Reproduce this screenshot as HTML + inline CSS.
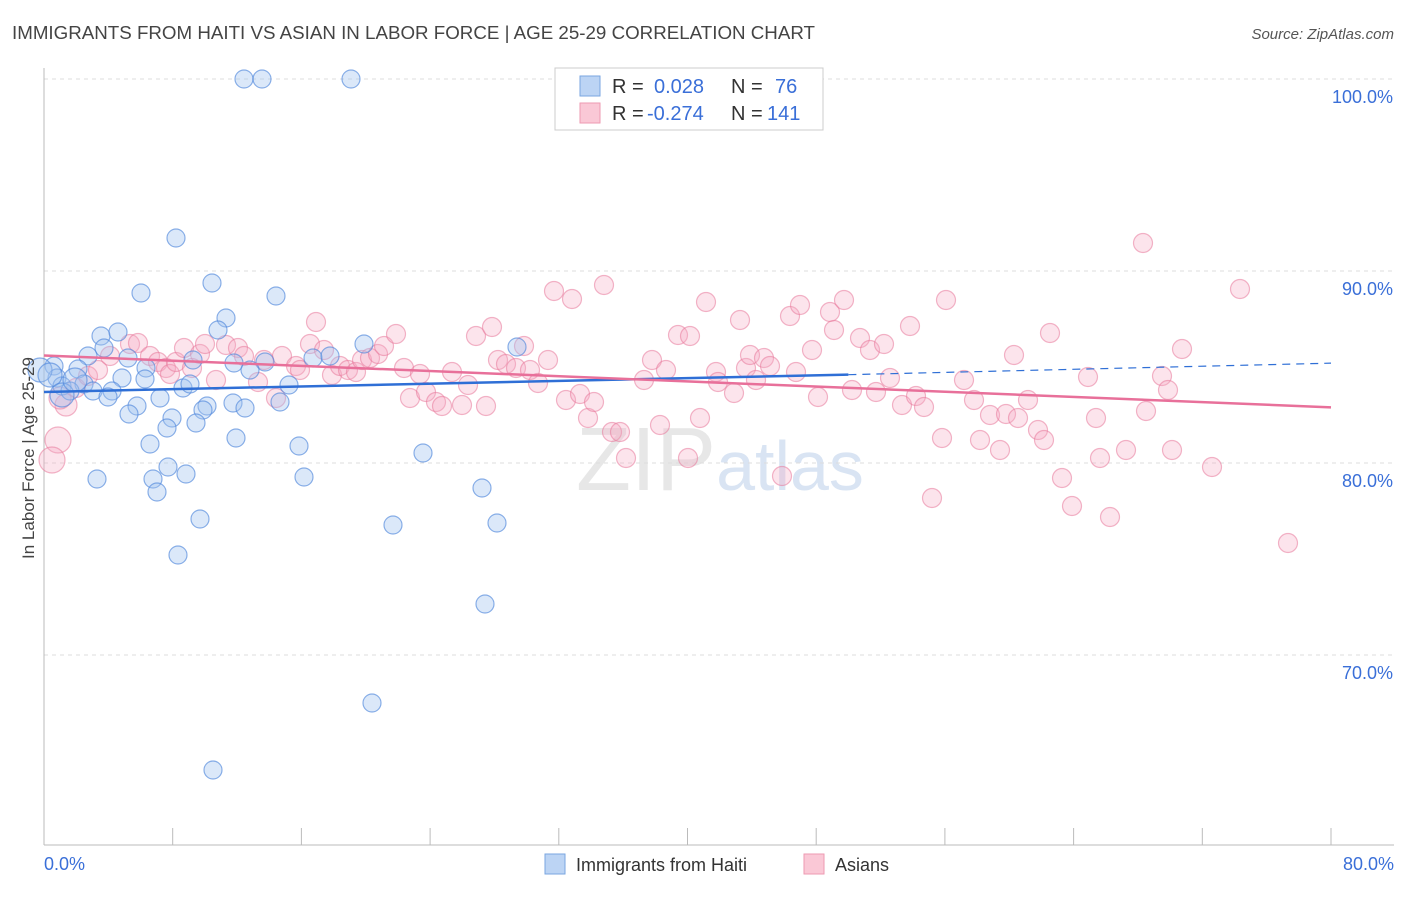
<!DOCTYPE html>
<html><head><meta charset="utf-8"><style>
body{margin:0;background:#fff;font-family:"Liberation Sans",sans-serif;}
svg text{font-family:"Liberation Sans",sans-serif;}
</style></head><body>
<svg id="chart" width="1406" height="892" xmlns="http://www.w3.org/2000/svg">
<text x="12" y="39" font-size="18" fill="#444" textLength="803" lengthAdjust="spacingAndGlyphs">IMMIGRANTS FROM HAITI VS ASIAN IN LABOR FORCE | AGE 25-29 CORRELATION CHART</text>
<text x="1394" y="39" font-size="15" fill="#555" text-anchor="end" font-style="italic">Source: ZipAtlas.com</text>
<text x="720" y="490" font-size="90" fill="#ddd" text-anchor="middle" font-family="Liberation Serif" opacity="0.7">ZIP<tspan fill="#c9d9ee" font-family="Liberation Sans" font-size="70">atlas</tspan></text>
<g id="grid"></g><g id="axes"></g><g id="pts"></g><g id="trend"></g>
<text transform="translate(34,458) rotate(-90)" font-size="17" fill="#444" text-anchor="middle">In Labor Force | Age 25-29</text>
<g>
<rect x="555" y="68" width="268" height="62" fill="#fff" stroke="#ccc"/>
<rect x="580" y="76" width="20" height="20" fill="#bcd4f4" stroke="#7aa6e0"/>
<rect x="580" y="103" width="20" height="20" fill="#fac8d6" stroke="#ee9ab2"/>
<text x="612" y="93" font-size="20" fill="#333">R =</text>
<text x="654" y="93" font-size="20" fill="#3a6fd8">0.028</text>
<text x="731" y="93" font-size="20" fill="#333">N =</text>
<text x="775" y="93" font-size="20" fill="#3a6fd8">76</text>
<text x="612" y="120" font-size="20" fill="#333">R =</text>
<text x="647" y="120" font-size="20" fill="#3a6fd8">-0.274</text>
<text x="731" y="120" font-size="20" fill="#333">N =</text>
<text x="767" y="120" font-size="20" fill="#3a6fd8">141</text>
</g>
<g>
<rect x="545" y="854" width="20" height="20" fill="#bcd4f4" stroke="#7aa6e0"/>
<text x="576" y="871" font-size="18" fill="#333">Immigrants from Haiti</text>
<rect x="804" y="854" width="20" height="20" fill="#fac8d6" stroke="#ee9ab2"/>
<text x="835" y="871" font-size="18" fill="#333">Asians</text>
</g>
</svg>
<script>
const yTicks=[100,90,80,70];
const xTickCount=10;
const blueX=[244,262,351,757,176,212,141,276,226,218,101,118,104,88,128,193,234,265,250,313,330,364,517,54,78,146,122,145,57,84,62,70,93,112,183,190,289,160,108,137,207,233,245,280,203,129,172,167,196,236,150,299,423,97,153,168,186,157,304,482,200,393,497,178,485,372,213,40,50,62,75].map(p=>(p-44)/1287*80);
const blueY=[79,79,79,79,238,283,293,296,318,330,336,332,348,356,358,360,363,362,370,358,356,344,347,366,369,368,378,379,378,384,386,391,391,391,388,384,385,398,397,406,406,403,408,402,410,414,418,428,423,438,444,446,453,479,479,467,474,492,477,488,519,525,523,555,604,703,770,370,375,395,380].map(p=>100-(p-79)/19.2);
const pinkX=[58,52,66,60,76,88,98,110,130,138,150,158,166,170,176,184,192,200,205,216,226,238,244,258,264,276,282,296,300,310,316,324,332,340,348,356,362,370,378,384,396,404,410,420,426,436,442,452,462,468,476,486,492,498,506,516,524,530,538,548,554,566,572,580,588,594,604,612,620,626,644,652,660,666,678,688,690,700,706,716,718,734,740,746,750,756,764,770,782,790,796,800,812,818,830,834,844,852,860,870,876,884,890,902,910,916,924,932,942,946,964,974,980,990,1000,1006,1014,1018,1028,1038,1044,1050,1062,1072,1088,1096,1100,1110,1126,1143,1146,1162,1168,1172,1182,1212,1240,1288].map(p=>(p-44)/1287*80);
const pinkY=[440,460,405,398,388,376,370,356,344,343,356,362,368,374,362,348,368,354,344,380,345,348,356,382,360,398,356,366,370,344,322,350,375,366,370,372,360,358,354,346,334,368,398,374,392,402,406,372,405,385,336,406,327,360,364,368,346,370,383,360,291,400,299,394,418,402,285,432,432,458,380,360,425,370,335,458,336,418,302,372,382,393,320,368,355,380,358,366,476,316,372,305,350,397,312,330,300,390,338,350,392,344,378,405,326,396,407,498,438,300,380,400,440,415,450,414,355,418,400,430,440,333,478,506,377,418,458,517,450,243,411,376,390,450,349,467,289,543].map(p=>100-(p-79)/19.2);
const blueTrend=[[0,83.7],[50,84.6],[80,85.2]];
const pinkTrend=[[0,85.6],[80,82.9]];
const NS="http://www.w3.org/2000/svg";
const X=v=>44+v/80*1287, Y=v=>79+(100-v)*19.2;
function mk(t,a,p){const e=document.createElementNS(NS,t);for(const k in a)e.setAttribute(k,a[k]);p.appendChild(e);return e;}
const grid=document.getElementById('grid'),axes=document.getElementById('axes'),pts=document.getElementById('pts'),tr=document.getElementById('trend');
yTicks.forEach(v=>{
 const l=mk('line',{x1:44,x2:1394,y1:Y(v),y2:Y(v),stroke:'#ddd','stroke-dasharray':'4,4'},grid);
 
 
 const t=mk('text',{x:1393,y:Y(v)+24,'font-size':18,fill:'#3a6fd8','text-anchor':'end'},axes);t.textContent=v.toFixed(1)+'%';
 
 
});
mk('line',{x1:44,x2:44,y1:68,y2:845,stroke:'#bbb'},axes);
mk('line',{x1:44,x2:1394,y1:845,y2:845,stroke:'#bbb'},axes);
for(let i=0;i<=xTickCount;i++){const x=X(i*8);const l=mk('line',{x1:x,x2:x,y1:828,y2:845,stroke:'#bbb'},axes);
 
 }
let t=mk('text',{x:44,y:870,'font-size':18,fill:'#3a6fd8'},axes);t.textContent='0.0%';


t=mk('text',{x:1394,y:870,'font-size':18,fill:'#3a6fd8','text-anchor':'end'},axes);t.textContent='80.0%';


pinkX.forEach((x,i)=>{const r=i<2?13:(i<4?11:9.5);const c=mk('circle',{cx:X(x),cy:Y(pinkY[i]),r:r,fill:'rgba(246,170,195,0.32)',stroke:'rgba(232,120,155,0.55)','stroke-width':1.2},pts);
 
 });
blueX.forEach((x,i)=>{const c=mk('circle',{cx:X(x),cy:Y(blueY[i]),r:i>=67?12:9,fill:'rgba(160,195,240,0.38)',stroke:'rgba(80,135,220,0.65)','stroke-width':1.2},pts);
 
 });
let l=mk('line',{x1:X(blueTrend[0][0]),y1:Y(blueTrend[0][1]),x2:X(blueTrend[1][0]),y2:Y(blueTrend[1][1]),stroke:'#2f6fd6','stroke-width':2.5},tr);


l=mk('line',{x1:X(blueTrend[1][0]),y1:Y(blueTrend[1][1]),x2:X(blueTrend[2][0]),y2:Y(blueTrend[2][1]),stroke:'#2f6fd6','stroke-width':1.2,'stroke-dasharray':'8,6'},tr);


l=mk('line',{x1:X(pinkTrend[0][0]),y1:Y(pinkTrend[0][1]),x2:X(pinkTrend[1][0]),y2:Y(pinkTrend[1][1]),stroke:'#e8709a','stroke-width':2.5},tr);


</script>
</body></html>
